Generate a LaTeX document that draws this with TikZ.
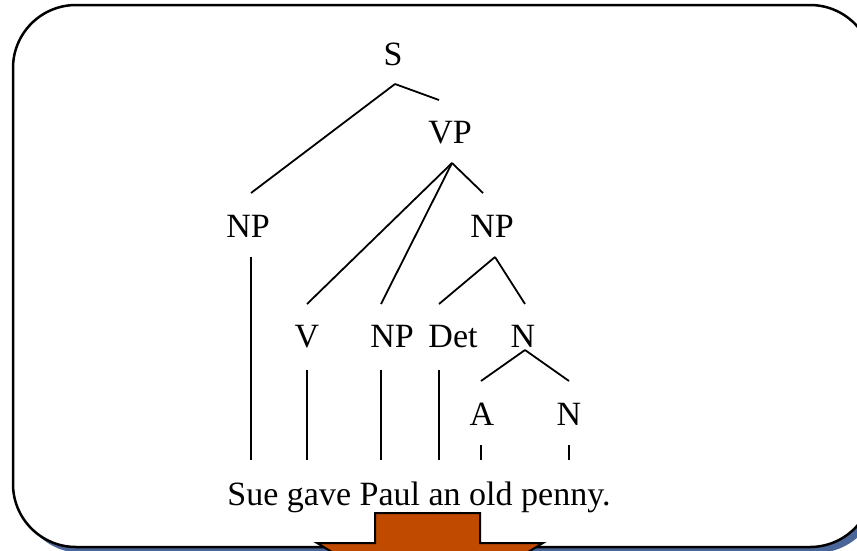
\documentclass[tikz,border=0pt]{standalone}
\usepackage{fontspec}
\setmainfont{Liberation Serif}
\definecolor{shadowblue}{RGB}{74,102,153}
\definecolor{arroworange}{RGB}{192,74,0}
\tikzset{
    lbl/.style={anchor=base, inner sep=0pt, font=\fontsize{34}{40}\selectfont},
    branch/.style={line width=1.8pt}
}

\begin{document}
\begin{tikzpicture}[x=1pt, y=-1pt]
    \clip (0,0) rectangle (857,550);
    % frame: shadow, box, arrow
    \fill[shadowblue, rounded corners=63pt] (19,11) rectangle (879,553);
    \draw[line width=2.5pt, fill=white, rounded corners=63pt] (13,5) rectangle (873,547);
    \draw[line width=2pt, fill=arroworange] (375,513) -- (480,513) -- (480,543) -- (543,543)
        -- (430,611) -- (317,543) -- (375,543) -- cycle;

    % nodes: S VP NP NP
    \node[lbl] (s) at (393, 65) {S};
    \node[lbl] (vp) at (450, 143) {VP};
    \node[lbl] (np1) at (248, 237) {NP};
    \node[lbl] (np2) at (492, 237) {NP};
    % nodes: V NP Det N A N
    \node[lbl] (v) at (307, 347) {V};
    \node[lbl] (np3) at (392, 347) {NP};
    \node[lbl] (det) at (453, 347) {Det};
    \node[lbl] (n1) at (523, 347) {N};
    \node[lbl] (a) at (482, 425) {A};
    \node[lbl] (n2) at (569, 425) {N};
    \node[lbl] (sent) at (419, 505) {Sue gave Paul an old penny.};

    % joints and branch ends
    \coordinate (s-j) at (395, 84);
    \coordinate (vp-j) at (452, 163);
    \coordinate (np2-j) at (495, 257);
    \coordinate (n1-j) at (525, 350);
    \coordinate (np1-t) at (251, 193);
    \coordinate (vp-t) at (439, 100);
    \coordinate (v-t) at (307, 304);
    \coordinate (np3-t) at (381, 304);
    \coordinate (np2-t) at (483, 193);
    \coordinate (det-t) at (439, 304);
    \coordinate (n1-t) at (525, 304);
    \coordinate (a-t) at (481, 381);
    \coordinate (n2-t) at (569, 381);

    % edges: S-NP, S-VP, VP-V, VP-NP, VP-NP, NP-Det, NP-N, N-A, N-N
    \draw[branch] (s-j) -- (np1-t);
    \draw[branch] (s-j) -- (vp-t);
    \draw[branch] (vp-j) -- (v-t);
    \draw[branch] (vp-j) -- (np3-t);
    \draw[branch] (vp-j) -- (np2-t);
    \draw[branch] (np2-j) -- (det-t);
    \draw[branch] (np2-j) -- (n1-t);
    \draw[branch] (n1-j) -- (a-t);
    \draw[branch] (n1-j) -- (n2-t);

    % edges: leaves down to the sentence
    \coordinate (np1-w) at (251, 460);
    \coordinate (v-w) at (307, 460);
    \coordinate (np3-w) at (381, 460);
    \coordinate (det-w) at (439, 460);
    \coordinate (a-w) at (481, 460);
    \coordinate (n2-w) at (569, 460);
    \draw[branch] (251, 257) -- (np1-w);
    \draw[branch] (307, 370) -- (v-w);
    \draw[branch] (381, 370) -- (np3-w);
    \draw[branch] (439, 370) -- (det-w);
    \draw[branch] (481, 445) -- (a-w);
    \draw[branch] (569, 445) -- (n2-w);
\end{tikzpicture}
\end{document}
